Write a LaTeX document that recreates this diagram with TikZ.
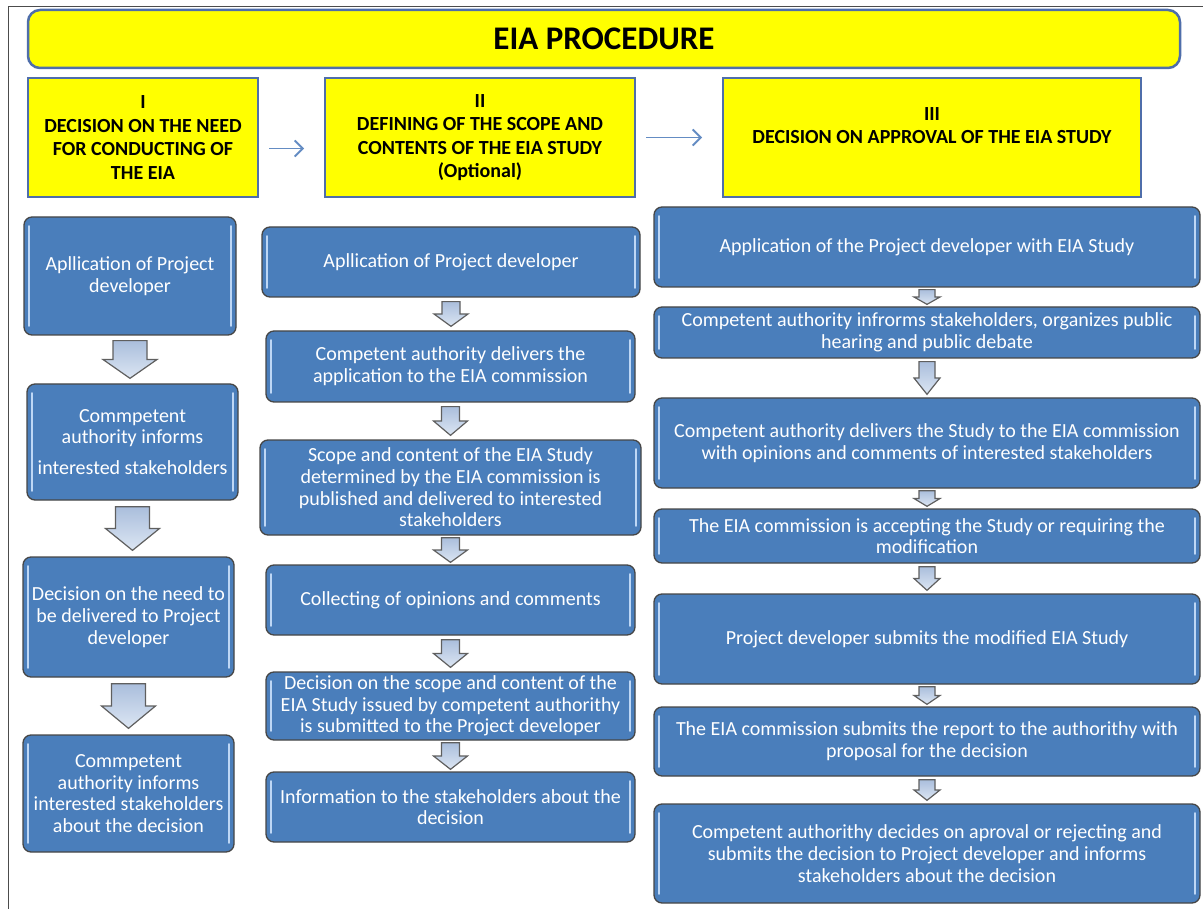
\documentclass[tikz,border=0pt]{standalone}
\usepackage{fontspec}
\setmainfont{Carlito}
\usetikzlibrary{arrows.meta,calc}
\definecolor{boxblue}{RGB}{74,126,187}
\definecolor{boxedge}{RGB}{70,70,70}
\definecolor{hilite}{RGB}{190,215,245}
\definecolor{ylw}{RGB}{255,255,0}
\definecolor{ylwedge}{RGB}{79,110,170}
\definecolor{arrtop}{RGB}{170,190,220}
\definecolor{arrbot}{RGB}{220,230,243}
\definecolor{arredge}{RGB}{95,95,95}
\definecolor{harrow}{RGB}{100,140,195}
\tikzset{
  bluebox/.style={draw=boxedge, line width=1.3pt, fill=boxblue, rounded corners=8pt,
    text=white, align=center, inner sep=0pt,
    font=\fontsize{20}{21.7}\selectfont,
    path picture={
      \draw[hilite, line width=1.6pt, line cap=round]
        ([xshift=5pt,yshift=-9pt]path picture bounding box.north west) --
        ([xshift=5pt,yshift=9pt]path picture bounding box.south west);
      \draw[hilite, line width=1.6pt, line cap=round]
        ([xshift=-5pt,yshift=-9pt]path picture bounding box.north east) --
        ([xshift=-5pt,yshift=9pt]path picture bounding box.south east);
    }},
  headbox/.style={draw=ylwedge, line width=2pt, fill=ylw, align=center, inner sep=0pt,
    font=\fontsize{20}{23.5}\selectfont\bfseries},
  titlebox/.style={draw=ylwedge, line width=2.5pt, fill=ylw, rounded corners=12pt,
    inner sep=0pt, font=\fontsize{33}{38}\selectfont\bfseries},
  barrow/.style={draw=arredge, line width=1.2pt, top color=arrtop, bottom color=arrbot, line join=miter},
  harr/.style={draw=harrow, line width=1.8pt, -{Straight Barb[length=8pt,width=16pt,line width=1.8pt]}},
  frameline/.style={draw=black!70, line width=1pt}
}
% box from corners: style, x1, y1, x2, y2, name
\newcommand\bx[6]{\node[#1, minimum width={(#4-#2)*1pt}, minimum height={(#5-#3)*1pt}] (#6) at ({(#2+#4)/2},{(#3+#5)/2})}
% block down arrow: from, to, shaft half width, head half width, inset
\newcommand\darr[5]{\draw[barrow] let \p1=(#1.south), \p2=(#2.north), \p3=(#1.center) in
  (\x3-#3pt,\y1-#5pt) -- (\x3+#3pt,\y1-#5pt) -- (\x3+#3pt,{\y2+0.5*(\y1-\y2)}) --
  (\x3+#4pt,{\y2+0.5*(\y1-\y2)}) -- (\x3,\y2+#5pt) -- (\x3-#4pt,{\y2+0.5*(\y1-\y2)}) --
  (\x3-#3pt,{\y2+0.5*(\y1-\y2)}) -- cycle;}
\begin{document}
\begin{tikzpicture}[x=1pt,y=-1pt]
\useasboundingbox (0,0) rectangle (1203,909);
\coordinate (ftr) at (1203,6.5);
\coordinate (ftl) at (8.5,6.5);
\coordinate (fbl) at (8.5,909);
\draw[frameline] (ftr) -- (ftl) -- (fbl);

\bx{titlebox}{28}{10}{1180}{68}{title} {EIA PROCEDURE};
\bx{headbox}{28}{78}{258}{197}{h1} {I\\DECISION ON THE NEED\\FOR CONDUCTING OF\\THE EIA};
\bx{headbox}{325}{78}{635}{197}{h2} {II\\DEFINING OF THE SCOPE AND\\CONTENTS OF THE EIA STUDY\\(Optional)};
\bx{headbox}{723}{78}{1141}{197}{h3} {III\\DECISION ON APPROVAL OF THE EIA STUDY\\\mbox{}};
\draw[harr] ([shift={(10,11)}]h1.east) -- ([shift={(-20,11)}]h2.west);
\draw[harr] ([shift={(10,0)}]h2.east) -- ([shift={(-20,0)}]h3.west);

% column I
\bx{bluebox}{24}{217}{236}{335}{b1} {Apllication of Project\\developer};
\bx{bluebox}{27}{384}{238}{500}{b2} {Commpetent\\authority informs\\[9pt]interested stakeholders};
\bx{bluebox}{23}{557}{234}{677}{b3} {Decision on the need to\\be delivered to Project\\developer};
\bx{bluebox}{23}{735}{234}{852}{b4} {Commpetent\\authority informs\\interested stakeholders\\about the decision};
\darr{b1}{b2}{17}{27}{5}
\darr{b2}{b3}{17}{27}{6}
\darr{b3}{b4}{17}{27}{6}

% column II
\bx{bluebox}{262}{227}{640}{297}{c1} {Apllication of Project developer};
\bx{bluebox}{266}{331}{635}{402}{c2} {Competent authority delivers the\\application to the EIA commission};
\bx{bluebox}{260}{440}{641}{535}{c3} {Scope and content of the EIA Study\\determined by the EIA commission is\\published and delivered to interested\\stakeholders};
\bx{bluebox}{266}{565}{635}{635}{c4} {Collecting of opinions and comments};
\bx{bluebox}{266}{672}{635}{740}{c5} {Decision on the scope and content of the\\EIA Study issued by competent authorithy\\is submitted to the Project developer};
\bx{bluebox}{266}{772}{635}{842}{c6} {Information to the stakeholders about the\\decision};
\darr{c1}{c2}{9}{17}{4}
\darr{c2}{c3}{9}{17}{4}
\darr{c3}{c4}{9}{17}{2}
\darr{c4}{c5}{9}{17}{4}
\darr{c5}{c6}{9}{17}{2}

% column III
\bx{bluebox}{654}{207}{1200}{287}{d1} {Application of the Project developer with EIA Study};
\bx{bluebox}{654}{307}{1200}{358}{d2} {Competent authority infrorms stakeholders, organizes public\\hearing and public debate};
\bx{bluebox}{654}{398}{1200}{488}{d3} {Competent authority delivers the Study to the EIA commission\\with opinions and comments of interested stakeholders};
\bx{bluebox}{654}{509}{1200}{563}{d4} {The EIA commission is accepting the Study or requiring the\\modification};
\bx{bluebox}{654}{594}{1200}{684}{d5} {Project developer submits the modified EIA Study};
\bx{bluebox}{654}{707}{1200}{776}{d6} {The EIA commission submits the report to the authorithy with\\proposal for the decision};
\bx{bluebox}{654}{804}{1200}{903}{d7} {Competent authorithy decides on aproval or rejecting and\\submits the decision to Project developer and informs\\stakeholders about the decision};
\darr{d1}{d2}{8}{13}{2}
\darr{d2}{d3}{8}{13}{3}
\darr{d3}{d4}{8}{13}{2}
\darr{d4}{d5}{8}{13}{3}
\darr{d5}{d6}{8}{13}{2}
\darr{d6}{d7}{8}{13}{3}
\end{tikzpicture}
\end{document}
